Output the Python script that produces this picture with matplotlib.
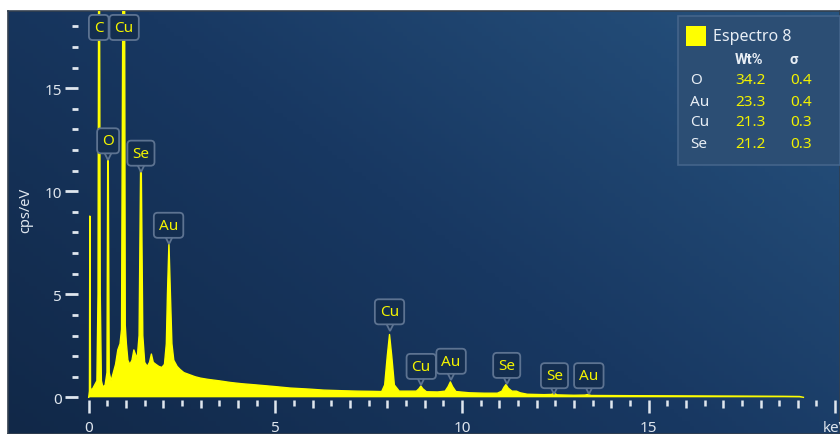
import numpy as np
import matplotlib
matplotlib.use('Agg')
import matplotlib.pyplot as plt
from matplotlib.patches import Rectangle
from matplotlib.colors import LinearSegmentedColormap
from matplotlib.ticker import FixedLocator, FixedFormatter

plt.rcParams['font.family'] = ['Noto Sans', 'DejaVu Sans']

# spectrum (keV, cps/eV)
energy = [0.00, 0.02, 0.03, 0.05, 0.10, 0.16, 0.22, 0.25, 0.27, 0.285, 0.31, 0.34, 0.38, 0.44,
          0.49, 0.51, 0.525, 0.55, 0.60, 0.66, 0.72, 0.78, 0.84, 0.88, 0.92, 0.94, 0.96, 0.98,
          1.01, 1.05, 1.10, 1.16, 1.21, 1.25, 1.30, 1.35, 1.39, 1.41, 1.45, 1.50, 1.57, 1.63,
          1.68, 1.73, 1.80, 1.88, 1.96, 2.03, 2.08, 2.11, 2.15, 2.19, 2.23, 2.28, 2.37, 2.45,
          2.55, 2.70, 2.85, 3.00, 3.20, 3.50, 3.80, 4.10, 4.50, 5.00, 5.40, 5.90, 6.30, 6.80,
          7.20, 7.60, 7.85, 7.93, 8.00, 8.06, 8.12, 8.19, 8.32, 8.60, 8.78, 8.85, 8.90, 8.95,
          9.05, 9.35, 9.55, 9.63, 9.69, 9.75, 9.84, 10.20, 10.60, 10.95, 11.07, 11.13, 11.18,
          11.24, 11.34, 11.46, 11.56, 11.75, 12.20, 12.40, 12.47, 12.55, 13.00, 13.30, 13.38,
          13.46, 14.50, 16.00, 17.50, 18.60, 19.05, 19.15]
counts = [0.0, 0.3, 8.8, 0.4, 0.4, 0.6, 0.8, 5.0, 24.0, 24.0, 5.0, 0.8, 0.5, 0.6,
          1.2, 11.5, 11.5, 1.2, 0.8, 1.2, 1.6, 2.3, 2.6, 3.3, 22.0, 22.0, 22.0, 3.5,
          2.6, 1.8, 1.6, 1.8, 2.3, 2.1, 1.9, 3.0, 11.0, 11.0, 3.0, 1.7, 1.5, 1.7,
          2.1, 1.7, 1.6, 1.5, 1.45, 1.6, 2.6, 5.0, 7.5, 5.0, 2.6, 1.8, 1.5, 1.35,
          1.2, 1.1, 1.0, 0.93, 0.87, 0.8, 0.72, 0.66, 0.6, 0.52, 0.45, 0.4, 0.35, 0.32,
          0.3, 0.29, 0.28, 0.6, 2.0, 3.05, 2.0, 0.6, 0.3, 0.3, 0.3, 0.42, 0.55, 0.42,
          0.27, 0.26, 0.3, 0.52, 0.75, 0.52, 0.28, 0.22, 0.2, 0.2, 0.3, 0.5, 0.62,
          0.45, 0.3, 0.3, 0.22, 0.15, 0.13, 0.14, 0.2, 0.12, 0.1, 0.11, 0.14,
          0.09, 0.08, 0.07, 0.06, 0.05, 0.04, 0.0]

# peak labels
peak_names = ['C', 'Cu', 'O', 'Se', 'Au', 'Cu', 'Cu', 'Au', 'Se', 'Se', 'Au']
peak_energy = [0.27, 0.95, 0.52, 1.40, 2.14, 8.06, 8.91, 9.71, 11.20, 12.48, 13.40]
label_y = [17.95, 17.95, 12.45, 11.85, 8.35, 4.15, 1.5, 1.75, 1.55, 1.05, 1.05]
has_pointer = [False, False, True, True, True, True, True, True, True, True, True]

# ticks
x_major = [0, 5, 10, 15, 20]
x_labels = ['0', '5', '10', '15', 'keV']
y_major = [0, 5, 10, 15]

# quantification table
legend_title = 'Espectro 8'
elements = ['O', 'Au', 'Cu', 'Se']
wt_pct = ['34.2', '23.3', '21.3', '21.2']
sigma = ['0.4', '0.4', '0.3', '0.3']

W, H = 840, 435
fig = plt.figure(figsize=(W / 100, H / 100), dpi=100)
fig.patch.set_facecolor('white')

rect = [8 / W, 0, (W - 8) / W, (H - 12) / H]

# background panel with gradient
bg = fig.add_axes(rect)
cmap = LinearSegmentedColormap.from_list('bgc', ['#112848', '#183862', '#27537f'])
gx, gy = np.meshgrid(np.linspace(0, 1, 200), np.linspace(0, 1, 100))
grad = 0.6 * gx + 0.4 * gy
bg.imshow(grad, cmap=cmap, extent=[0, 1, 0, 1], origin='lower', aspect='auto',
          vmin=0, vmax=1)
bg.set_xticks([])
bg.set_yticks([])
for s in bg.spines.values():
    s.set_color('#33404f')
    s.set_linewidth(1.2)

ax = fig.add_axes(rect)
ax.patch.set_visible(False)
ax.set_xlim(-2.162, 20.13)
ax.set_ylim(-1.78, 18.75)

yellow = '#ffff00'
ax.fill_between(energy, counts, 0, color=yellow, lw=0, zorder=2)
ax.plot(energy, counts, color=yellow, lw=1.0, zorder=2)

tick_col = '#dfe6ee'
for s in ['top', 'right']:
    ax.spines[s].set_visible(False)
ax.spines['left'].set_position(('data', -0.29))
ax.spines['bottom'].set_position(('data', -0.15))
ax.spines['left'].set_color('none')
ax.spines['bottom'].set_color('none')

ax.xaxis.set_major_locator(FixedLocator(x_major))
ax.xaxis.set_major_formatter(FixedFormatter(x_labels))
ax.xaxis.set_minor_locator(FixedLocator([v + 0.5 for v in range(0, 20)]))
ax.yaxis.set_major_locator(FixedLocator(y_major))
ax.yaxis.set_minor_locator(FixedLocator([v for v in range(1, 19) if v % 5 != 0]))

ax.tick_params(axis='x', which='major', direction='out', length=9, width=1.8,
               color=tick_col, labelcolor=tick_col, labelsize=11, pad=5)
ax.tick_params(axis='x', which='minor', direction='out', length=4.2, width=1.8,
               color=tick_col)
ax.tick_params(axis='y', which='major', direction='out', length=9.5, width=2.0,
               color=tick_col, labelcolor=tick_col, labelsize=11, pad=2)
ax.tick_params(axis='y', which='minor', direction='out', length=4.2, width=2.0,
               color=tick_col)

# integer ticks are a bit longer than half-keV ticks
ax2 = ax.twiny()
ax2.set_xlim(ax.get_xlim())
ax2.patch.set_visible(False)
for s in ax2.spines.values():
    s.set_visible(False)
ax2.spines['bottom'].set_visible(True)
ax2.spines['bottom'].set_color('none')
ax2.spines['bottom'].set_position(('data', -0.15))
ax2.xaxis.set_ticks_position('bottom')
ax2.set_xticks([v for v in range(0, 21) if v % 5 != 0])
ax2.set_xticklabels([])
ax2.tick_params(axis='x', direction='out', length=5.8, width=1.8, color=tick_col)

ax.set_ylabel('cps/eV', color=tick_col, fontsize=10.5)
ax.yaxis.set_label_coords(0.03, 0.53)

# peak labels
box_fc = '#142e50'
box_ec = '#5d7391'
for name, e, ly, ptr in zip(peak_names, peak_energy, label_y, has_pointer):
    ax.text(e, ly, name, ha='center', va='center', color='#f4f400', fontsize=11,
            zorder=6,
            bbox=dict(boxstyle='round,pad=0.33,rounding_size=0.25', fc=box_fc,
                      ec=box_ec, lw=1.3))
    if ptr:
        ax.plot(e, ly - 0.62, marker='v', ms=9, mfc=box_fc, mec=box_ec, mew=1.3,
                zorder=5)


# quantification table at top right
def fx(px):
    return px / W


def fy(py):
    return 1 - py / H


fig.add_artist(Rectangle((fx(678), fy(166)), fx(162), 149 / H, transform=fig.transFigure,
                         fc='#2c4e74', ec='#44648a', lw=1.2, zorder=5))
fig.add_artist(Rectangle((fx(686), fy(47)), fx(20), 20 / H, transform=fig.transFigure,
                         fc=yellow, ec='none', zorder=6))
txt_col = '#e8eef5'
val_col = '#f2f200'
fig.text(fx(713), fy(37), legend_title, color=txt_col, fontsize=11.5, va='center',
         zorder=7)
fig.text(fx(735), fy(60), 'Wt%', color=txt_col, fontsize=10.5, fontweight='bold',
         family=['Roboto', 'DejaVu Sans'], va='center', zorder=7)
fig.text(fx(790), fy(60), 'σ', color=txt_col, fontsize=10.5, fontweight='bold',
         family=['Roboto', 'DejaVu Sans'], va='center', zorder=7)
for i, (el, w, s) in enumerate(zip(elements, wt_pct, sigma)):
    yy = fy(81 + 21 * i)
    fig.text(fx(690), yy, el, color=txt_col, fontsize=11, va='center', zorder=7)
    fig.text(fx(735), yy, w, color=val_col, fontsize=11, va='center', zorder=7)
    fig.text(fx(790), yy, s, color=val_col, fontsize=11, va='center', zorder=7)

fig.savefig('out.png', dpi=100)
